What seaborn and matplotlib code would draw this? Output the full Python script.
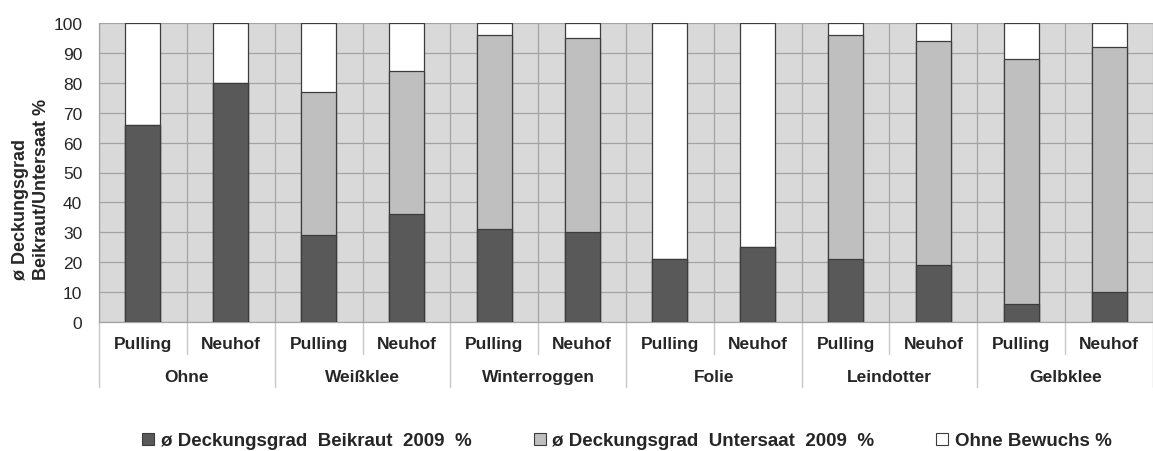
import matplotlib
matplotlib.use("Agg")
import matplotlib.pyplot as plt
import matplotlib.transforms as mtransforms
from matplotlib.patches import Patch
import numpy as np
import pandas as pd
import seaborn as sns

# --- data -------------------------------------------------------------
groups = ["Ohne", "Weißklee", "Winterroggen", "Folie", "Leindotter", "Gelbklee"]
sites = ["Pulling", "Neuhof"]
beikraut = [66, 80, 29, 36, 31, 30, 21, 25, 21, 19, 6, 10]
untersaat = [0, 0, 48, 48, 65, 65, 0, 0, 75, 75, 82, 82]
ohne_bewuchs = [34, 20, 23, 16, 4, 5, 79, 75, 4, 6, 12, 8]
series_names = ["ø Deckungsgrad  Beikraut  2009  %",
                "ø Deckungsgrad  Untersaat  2009  %",
                "Ohne Bewuchs %"]
y_ticks = list(range(0, 101, 10))

# --- styling ----------------------------------------------------------
sns.set_style("white")
plt.rcParams["font.family"] = ["Liberation Sans", "DejaVu Sans"]

c_dark, c_mid, c_white = "#595959", "#bfbfbf", "#ffffff"
edge = "#3c3c3c"
grid_c = "#a3a3a3"

slots = [f"{g}|{s}" for g in groups for s in sites]
df = pd.DataFrame({
    "slot": slots,
    "beikraut": beikraut,
    "untersaat": untersaat,
    "ohne": ohne_bewuchs,
})
df["lvl2"] = df["beikraut"] + df["untersaat"]
df["lvl3"] = df["lvl2"] + df["ohne"]

fig = plt.figure(figsize=(11.53, 4.52), dpi=100)
ax = fig.add_axes([99 / 1153, 1 - 323 / 452, 1 - 99 / 1153, 299 / 452])
ax.set_facecolor("#d9d9d9")

# stacked bars: cumulative totals drawn back to front
for col, colr in [("lvl3", c_white), ("lvl2", c_mid), ("beikraut", c_dark)]:
    sns.barplot(data=df, x="slot", y=col, order=slots, color=colr,
                width=0.4, edgecolor=edge, linewidth=0.9, saturation=1,
                ax=ax, zorder=3)

ax.set_xlim(-0.5, len(slots) - 0.5)
ax.set_ylim(0, 100)
ax.set_yticks(y_ticks)
ax.set_yticklabels([str(v) for v in y_ticks], fontsize=12.5)
ax.set_xticks(np.arange(len(slots)))
ax.set_xticks(np.arange(len(slots) + 1) - 0.5, minor=True)
ax.set_xticklabels([])
ax.tick_params(axis="x", which="both", length=0)
ax.tick_params(axis="y", length=6, width=0.8, color=grid_c, pad=6)
ax.set_xlabel("")
ax.set_ylabel("")

ax.grid(axis="y", which="major", color=grid_c, linewidth=0.9, zorder=0)
ax.grid(axis="x", which="minor", color=grid_c, linewidth=0.9, zorder=0)
ax.set_axisbelow(True)
for side in ["top", "right"]:
    ax.spines[side].set_visible(False)
for side in ["left", "bottom"]:
    ax.spines[side].set_color(grid_c)
    ax.spines[side].set_linewidth(0.9)

# two-level category axis below the plot
trans = mtransforms.blended_transform_factory(ax.transData, ax.transAxes)
short_drop = -32 / 299
long_drop = -65 / 299
for i in range(len(slots) + 1):
    xb = i - 0.5
    y_end = long_drop if i % 2 == 0 else short_drop
    ax.plot([xb, xb], [0, y_end], transform=trans, color="#c8c8c8",
            linewidth=1.0, clip_on=False)
for i, slot in enumerate(slots):
    ax.text(i, -22 / 299, slot.split("|")[1], transform=trans,
            ha="center", va="center", fontsize=12.5, fontweight="bold")
for gi, g in enumerate(groups):
    ax.text(gi * 2 + 0.5, -55 / 299, g, transform=trans,
            ha="center", va="center", fontsize=12.5, fontweight="bold")

fig.text(31 / 1153, 1 - 189 / 452, "ø Deckungsgrad\nBeikraut/Untersaat %",
         rotation=90, ha="center", va="center", multialignment="left",
         fontsize=13, fontweight="bold", linespacing=1.25)

handles = [Patch(facecolor=c, edgecolor=edge, linewidth=0.8)
           for c in (c_dark, c_mid, c_white)]
fig.legend(handles, series_names, loc="center", ncol=3, frameon=False,
           bbox_to_anchor=(627 / 1153, 1 - 442 / 452),
           prop={"size": 13.5, "weight": "bold"},
           handlelength=0.65, handleheight=0.65, handletextpad=0.35,
           columnspacing=3.3)

fig.savefig("out.png", dpi=100)
